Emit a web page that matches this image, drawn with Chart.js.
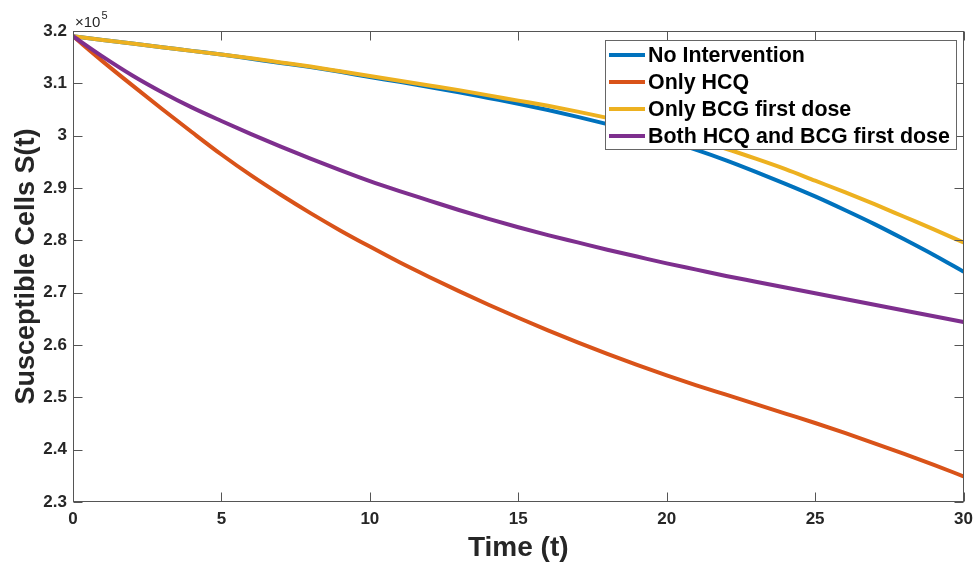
<!DOCTYPE html>
<html>
<head>
<meta charset="utf-8">
<script src="https://cdn.jsdelivr.net/npm/chart.js@4/dist/chart.umd.min.js"></script>
<style>
  html,body{margin:0;padding:0;background:#fff;}
  #wrap{width:980px;height:565px;position:relative;}
</style>
</head>
<body>
<div id="wrap"><canvas id="c" width="980" height="565"></canvas></div>
<script>
// ---- data (values in units of 10^5 cells) ----
const times = [0,1,2,3,4,5,6,7,8,9,10,11,12,13,14,15,16,17,18,19,20,21,22,23,24,25,26,27,28,29,30];
const noIntervention = [3.190,3.183,3.176,3.169,3.162,3.155,3.147,3.139,3.131,3.122,3.112,3.103,3.093,3.083,3.072,3.061,3.049,3.036,3.022,3.007,2.991,2.973,2.953,2.931,2.908,2.884,2.858,2.831,2.802,2.772,2.740];
const onlyHCQ = [3.190,3.142,3.096,3.051,3.007,2.964,2.924,2.887,2.852,2.819,2.788,2.758,2.730,2.703,2.677,2.652,2.628,2.605,2.583,2.562,2.542,2.523,2.505,2.487,2.469,2.451,2.432,2.412,2.392,2.371,2.349];
const onlyBCG = [3.190,3.183,3.176,3.169,3.162,3.155,3.148,3.140,3.132,3.123,3.114,3.105,3.096,3.087,3.077,3.067,3.057,3.046,3.034,3.021,3.008,2.992,2.975,2.956,2.936,2.914,2.892,2.869,2.845,2.821,2.796];
const bothHCQBCG = [3.190,3.151,3.115,3.083,3.054,3.028,3.003,2.979,2.956,2.934,2.913,2.894,2.876,2.858,2.841,2.825,2.810,2.796,2.782,2.769,2.756,2.744,2.732,2.721,2.710,2.699,2.688,2.677,2.666,2.655,2.644];
const seriesNames = ['No Intervention','Only HCQ','Only BCG first dose','Both HCQ and BCG first dose'];
const xTicks = [0,5,10,15,20,25,30];
const yTicks = [2.3,2.4,2.5,2.6,2.7,2.8,2.9,3.0,3.1,3.2];
const xTitle = 'Time (t)';
const yTitle = 'Susceptible Cells S(t)';
const exponentLabel = '5';

const colors = ['#0072BD','#D95319','#EDB120','#7E2F8E'];
const FONT = "'Liberation Sans', Arial, Helvetica, sans-serif";
const allSeries = [noIntervention, onlyHCQ, onlyBCG, bothHCQBCG];

const datasets = allSeries.map((arr, i) => ({
  label: seriesNames[i],
  data: times.map((t, k) => ({x: t, y: arr[k]})),
  borderColor: colors[i],
  backgroundColor: colors[i],
  borderWidth: 4,
  pointRadius: 0,
  fill: false,
  cubicInterpolationMode: 'monotone',
  order: 4 - i
}));

const boxPlugin = {
  id: 'matlabBox',
  afterDatasetsDraw(chart) {
    const {ctx, chartArea: a, scales} = chart;
    ctx.save();
    ctx.strokeStyle = '#555555';
    ctx.lineWidth = 1;
    const L = Math.round(a.left) + 0.5, R = Math.round(a.right) - 0.5;
    const T = Math.round(a.top) + 0.5, B = Math.round(a.bottom) - 0.5;
    ctx.strokeRect(L, T, R - L, B - T);
    ctx.beginPath();
    const tl = 9;
    scales.x.ticks.forEach(tk => {
      const px = Math.round(scales.x.getPixelForValue(tk.value)) + 0.5;
      ctx.moveTo(px, B); ctx.lineTo(px, B - tl);
      ctx.moveTo(px, T); ctx.lineTo(px, T + tl);
    });
    scales.y.ticks.forEach(tk => {
      const py = Math.round(scales.y.getPixelForValue(tk.value)) + 0.5;
      ctx.moveTo(L, py); ctx.lineTo(L + tl, py);
      ctx.moveTo(R, py); ctx.lineTo(R - tl, py);
    });
    ctx.stroke();
    // exponent label
    ctx.fillStyle = '#262626';
    ctx.textBaseline = 'alphabetic';
    ctx.textAlign = 'left';
    ctx.font = '15px ' + FONT;
    ctx.fillText('\u00d710', a.left + 2, a.top - 4);
    const w = ctx.measureText('\u00d710').width;
    ctx.font = '11px ' + FONT;
    ctx.fillText(exponentLabel, a.left + 2 + w + 1, a.top - 12);
    ctx.restore();
  },
  afterDraw(chart) {
    const {ctx} = chart;
    ctx.save();
    const lx = 605.5, ly = 40.5, lw = 351, lh = 109;
    ctx.fillStyle = '#ffffff';
    ctx.fillRect(lx, ly, lw, lh);
    ctx.strokeStyle = '#666666';
    ctx.lineWidth = 1;
    ctx.strokeRect(lx, ly, lw, lh);
    ctx.font = 'bold 21.4px ' + FONT;
    ctx.textBaseline = 'middle';
    ctx.textAlign = 'left';
    chart.data.datasets.forEach((ds, i) => {
      const y = 55 + i * 27;
      ctx.strokeStyle = ds.borderColor;
      ctx.lineWidth = 4;
      ctx.beginPath();
      ctx.moveTo(609, y); ctx.lineTo(645, y);
      ctx.stroke();
      ctx.fillStyle = '#000000';
      ctx.fillText(ds.label, 648, y + 1);
    });
    ctx.restore();
  }
};

new Chart(document.getElementById('c'), {
  type: 'line',
  data: {datasets},
  options: {
    responsive: false,
    animation: false,
    devicePixelRatio: 1,
    layout: {padding: {left: 0, right: 13, top: 31, bottom: 0}},
    plugins: {legend: {display: false}, tooltip: {enabled: false}},
    scales: {
      x: {
        type: 'linear',
        min: 0, max: 30,
        afterFit(s) { s.height = 63; },
        afterBuildTicks(s) { s.ticks = xTicks.map(v => ({value: v})); },
        grid: {display: false, drawTicks: false},
        border: {display: false},
        ticks: {
          color: '#262626', padding: 7,
          font: {family: FONT, size: 17, weight: 'bold'},
          maxRotation: 0, autoSkip: false
        },
        title: {
          display: true, text: xTitle, color: '#262626',
          font: {family: FONT, size: 28, weight: 'bold'},
          padding: {top: 0, bottom: 0}
        }
      },
      y: {
        type: 'linear',
        min: 2.3, max: 3.2,
        afterFit(s) { s.width = 73; },
        afterBuildTicks(s) { s.ticks = yTicks.map(v => ({value: v})); },
        grid: {display: false, drawTicks: false},
        border: {display: false},
        ticks: {
          color: '#262626', padding: 6,
          font: {family: FONT, size: 17, weight: 'bold'},
          autoSkip: false,
          callback: v => String(Number(v.toFixed(1)))
        },
        title: {
          display: true, text: yTitle, color: '#262626',
          font: {family: FONT, size: 27, weight: 'bold'},
          padding: {top: 10, bottom: 0}
        }
      }
    }
  },
  plugins: [boxPlugin]
});
</script>
</body>
</html>
